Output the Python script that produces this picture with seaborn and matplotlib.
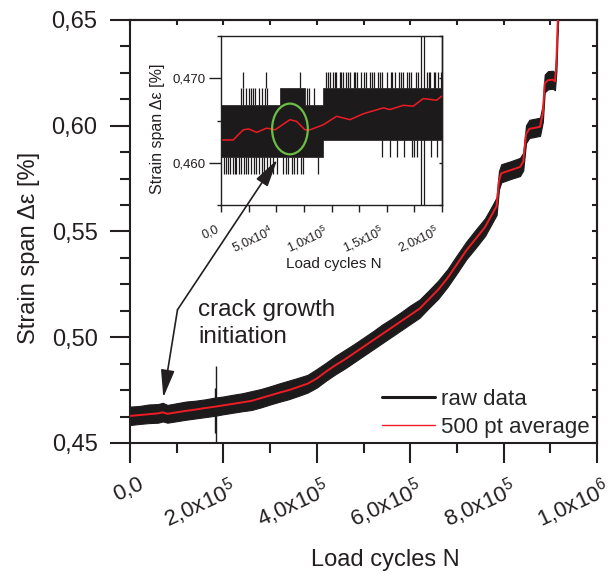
import numpy as np
import pandas as pd
import matplotlib
matplotlib.use("Agg")
import matplotlib.pyplot as plt
import matplotlib.transforms as mtransforms
from matplotlib.ticker import MultipleLocator, FixedLocator, FuncFormatter
from matplotlib.patches import Ellipse
from matplotlib.lines import Line2D
import seaborn as sns

# ---------------- data ----------------
# main chart: load cycles (thousands), 500 pt average and raw-data envelope
main_n_k = [0, 20, 40, 60, 70, 80, 100, 120, 140, 160, 180, 200, 220, 240, 260, 280, 300,
            320, 340, 360, 380, 400, 420, 440, 460, 480, 500, 520, 540, 560, 580, 600, 620,
            640, 660, 680, 700, 720, 740, 760, 775, 785, 790, 795, 815, 835, 842, 848, 855,
            878, 884, 888, 895, 905, 910, 913, 916, 919]
main_avg = [0.4628, 0.4632, 0.4636, 0.4640, 0.4645, 0.4638, 0.4645, 0.4652, 0.4658, 0.4665,
            0.4671, 0.4678, 0.4685, 0.4692, 0.4699, 0.4712, 0.4725, 0.4738, 0.4750, 0.4765,
            0.4780, 0.4805, 0.4838, 0.4868, 0.4895, 0.4925, 0.4955, 0.4985, 0.5015, 0.5045,
            0.5075, 0.5105, 0.5135, 0.5180, 0.5225, 0.5280, 0.5345, 0.5410, 0.5465, 0.5520,
            0.5580, 0.5620, 0.5740, 0.5775, 0.5790, 0.5805, 0.5830, 0.5960, 0.5985, 0.5995,
            0.6060, 0.6200, 0.6215, 0.6218, 0.6210, 0.6300, 0.6500, 0.6650]
main_raw_hi = [0.4672, 0.4675, 0.4682, 0.4684, 0.4690, 0.4680, 0.4688, 0.4696, 0.4700, 0.4706,
               0.4714, 0.4720, 0.4728, 0.4735, 0.4745, 0.4755, 0.4768, 0.4782, 0.4795, 0.4808,
               0.4822, 0.4850, 0.4880, 0.4912, 0.4940, 0.4968, 0.4998, 0.5028, 0.5060, 0.5088,
               0.5118, 0.5150, 0.5178, 0.5222, 0.5268, 0.5322, 0.5388, 0.5452, 0.5508, 0.5562,
               0.5620, 0.5662, 0.5785, 0.5818, 0.5832, 0.5848, 0.5872, 0.6002, 0.6028, 0.6038,
               0.6102, 0.6242, 0.6258, 0.6260, 0.6252, 0.6345, 0.6545, 0.6700]
main_raw_lo = [0.4585, 0.4590, 0.4594, 0.4596, 0.4602, 0.4596, 0.4603, 0.4610, 0.4616, 0.4622,
               0.4628, 0.4636, 0.4643, 0.4650, 0.4656, 0.4668, 0.4682, 0.4695, 0.4707, 0.4722,
               0.4738, 0.4762, 0.4795, 0.4825, 0.4852, 0.4882, 0.4912, 0.4942, 0.4972, 0.5002,
               0.5032, 0.5062, 0.5092, 0.5138, 0.5182, 0.5238, 0.5302, 0.5368, 0.5422, 0.5478,
               0.5538, 0.5578, 0.5698, 0.5732, 0.5748, 0.5762, 0.5788, 0.5918, 0.5942, 0.5952,
               0.6018, 0.6158, 0.6172, 0.6175, 0.6168, 0.6255, 0.6455, 0.6600]

# large outlier spikes in the raw data (cycles, min, max)
spike_n = [181000, 183500]
spike_lo = [0.4545, 0.4490]
spike_hi = [0.4760, 0.4865]

# inset: 500 pt average over the first 2x10^5 cycles
inset_n = [1500, 11000, 20200, 25000, 32300, 41300, 48900, 53400, 62400, 68400, 76000, 80500,
           92600, 104600, 116700, 128800, 146900, 152900, 165000, 174000, 183000, 195000, 200000]
inset_avg = [0.4627, 0.4627, 0.4639, 0.4640, 0.4636, 0.4641, 0.4639, 0.4643, 0.4651, 0.4649,
             0.4639, 0.4639, 0.4645, 0.4655, 0.4651, 0.4658, 0.4665, 0.4663, 0.4668, 0.4667,
             0.4676, 0.4674, 0.4679]
# inset: raw data core band (quantised levels)
core_n = [0, 53400, 53400, 76000, 76000, 92600, 92600, 200000]
core_lo = [0.4607, 0.4607, 0.4607, 0.4607, 0.4607, 0.4607, 0.4627, 0.4627]
core_hi = [0.4668, 0.4668, 0.4688, 0.4688, 0.4668, 0.4668, 0.4688, 0.4688]
# inset: single raw excursions outside the core band
low_spike_n = [2500, 4500, 6500, 8500, 10500, 12500, 14000, 16000, 18000, 20500, 22500, 24500,
               27000, 29500, 31500, 34000, 37000, 39000, 41500, 44500, 47500, 51000, 56000,
               58500, 61000, 64000, 66500, 69000, 72000, 74500, 88000]
low_spike_lo = [0.4587] * len(low_spike_n)
low_spike_hi = [0.4607] * len(low_spike_n)
mid_spike_n = [18000, 20000, 22500, 25000, 27000, 29000, 31000, 34000, 37000, 39500, 42000,
               77500, 80000, 84000]
mid_spike_lo = [0.4668] * len(mid_spike_n)
mid_spike_hi = [0.4688] * len(mid_spike_n)
top_spike_n = [20200, 40700, 71500, 95000, 97000, 98500, 101000, 103000, 104000, 107500, 109000,
               110000, 113000, 115000, 116500, 120000, 121500, 123000, 127000, 129000, 131000,
               135000, 136500, 138000, 142000, 144000, 146000, 150000, 153500, 155000, 157000,
               161000, 163000, 165000, 168000, 170000, 172000, 176000, 178000, 186000, 188000,
               189000, 192500, 194000, 196000, 199000]
top_spike_lo = [0.4688] * len(top_spike_n)
top_spike_hi = [0.4708] * len(top_spike_n)
down2_spike_n = [145400, 153000, 159000, 166000, 172500, 174500, 177000, 190000, 195000]
down2_spike_lo = [0.4607] * len(down2_spike_n)
down2_spike_hi = [0.4627] * len(down2_spike_n)

# ellipse marking crack growth initiation (centre, width, height in inset data units)
mark_center = (62400, 0.4640)
mark_size = (32300, 0.0060)

main_xticks = [0, 2e5, 4e5, 6e5, 8e5, 1e6]
main_yticks = [0.45, 0.50, 0.55, 0.60, 0.65]
inset_xticks = [0, 5e4, 1e5, 1.5e5, 2e5]
inset_yticks = [0.460, 0.470]

# ---------------- styling ----------------
sns.set_style("ticks")
plt.rcParams["font.family"] = ["Liberation Sans", "DejaVu Sans"]
plt.rcParams["mathtext.fontset"] = "custom"
plt.rcParams["mathtext.rm"] = "Liberation Sans"
plt.rcParams["mathtext.it"] = "Liberation Sans:italic"
plt.rcParams["mathtext.bf"] = "Liberation Sans:bold"

INK = "#231f20"
RAW = "#1c1a1a"
RED = "#ee1c24"
GREEN = "#6dbd45"


def sci_label(v, pos=None):
    if v == 0:
        return "0,0"
    e = int(np.floor(np.log10(abs(v)) + 1e-9))
    m = v / 10 ** e
    return ("%.1f" % m).replace(".", ",") + "x10$^{%d}$" % e


fig = plt.figure(figsize=(6.13, 5.79), dpi=100)
ax = fig.add_axes([0.2121, 0.2349, 0.7618, 0.7306])

main_n = np.array(main_n_k) * 1000.0
main_df = pd.DataFrame({"N": main_n, "avg": main_avg})

ax.fill_between(main_n, main_raw_lo, main_raw_hi, color=RAW, lw=0.8, edgecolor=RAW, zorder=2)
ax.vlines(spike_n, spike_lo, spike_hi, color=RAW, lw=1.0, zorder=2)
sns.lineplot(data=main_df, x="N", y="avg", ax=ax, color=RED, lw=1.4, sort=False,
             estimator=None, zorder=3, legend=False)

ax.set_xlim(0, 1e6)
ax.set_ylim(0.45, 0.65)
ax.xaxis.set_major_locator(FixedLocator(main_xticks))
ax.xaxis.set_minor_locator(MultipleLocator(1e5))
ax.yaxis.set_major_locator(FixedLocator(main_yticks))
ax.yaxis.set_minor_locator(MultipleLocator(0.0125))
ax.xaxis.set_major_formatter(FuncFormatter(sci_label))
ax.yaxis.set_major_formatter(FuncFormatter(lambda v, p: ("%.2f" % v).replace(".", ",")))

for s in ax.spines.values():
    s.set_linewidth(1.5)
    s.set_color(INK)
ax.tick_params(which="major", direction="out", length=14.4, width=1.5, color=INK,
               labelcolor=INK)
ax.tick_params(which="minor", direction="out", length=7.5, width=1.5, color=INK)
ax.tick_params(axis="y", which="major", labelsize=17, pad=9)
ax.tick_params(axis="x", which="major", labelsize=16, pad=8)

offset = mtransforms.ScaledTranslation(17 / 100, 0, fig.dpi_scale_trans)
for lab in ax.get_xticklabels():
    lab.set_rotation(25)
    lab.set_ha("right")
    lab.set_va("top")
    lab.set_transform(lab.get_transform() + offset)

# inward ticks on top / right
sec_x = ax.secondary_xaxis("top")
sec_x.xaxis.set_major_locator(MultipleLocator(1e5))
sec_x.tick_params(direction="in", length=3.6, width=1.5, color=INK, labeltop=False)
sec_x.spines["top"].set_linewidth(1.5)
sec_y = ax.secondary_yaxis("right")
sec_y.yaxis.set_major_locator(MultipleLocator(0.0125))
sec_y.tick_params(direction="in", length=3.6, width=1.5, color=INK, labelright=False)
sec_y.spines["right"].set_linewidth(1.5)

ax.set_xlabel("Load cycles N", fontsize=17, color=INK)
ax.set_ylabel("Strain span Δε [%]", fontsize=17, color=INK)
ax.xaxis.set_label_coords(0.546, -0.251)
ax.yaxis.set_label_coords(-0.193, 0.461)

handles = [Line2D([], [], color=RAW, lw=2.2), Line2D([], [], color=RED, lw=1.0)]
ax.legend(handles, ["raw data", "500 pt average"], loc="lower right",
          bbox_to_anchor=(0.985, 0.012), frameon=False, fontsize=16, borderpad=0,
          borderaxespad=0, handlelength=2.35, handletextpad=0.3, labelspacing=0.3)

ax.text(145600, 0.5180, "crack growth\ninitiation", fontsize=17.5, color=INK, ha="left",
        va="top", linespacing=1.3)

# ---------------- inset ----------------
ins = fig.add_axes([0.3605, 0.6459, 0.3606, 0.2919])
ins.set_facecolor("white")
ins.fill_between(core_n, core_lo, core_hi, color=RAW, lw=0.5, edgecolor=RAW, zorder=2)
for xs, lo, hi in [(low_spike_n, low_spike_lo, low_spike_hi),
                   (mid_spike_n, mid_spike_lo, mid_spike_hi),
                   (top_spike_n, top_spike_lo, top_spike_hi),
                   (down2_spike_n, down2_spike_lo, down2_spike_hi),
                   (spike_n, spike_lo, spike_hi)]:
    ins.vlines(xs, lo, hi, color=RAW, lw=0.9, zorder=2)
sns.lineplot(x=inset_n, y=inset_avg, ax=ins, color=RED, lw=1.1, sort=False,
             estimator=None, zorder=3, legend=False)
ins.add_patch(Ellipse(mark_center, mark_size[0], mark_size[1], fill=False,
                      edgecolor=GREEN, lw=1.6, zorder=4))

ins.set_xlim(0, 2e5)
ins.set_ylim(0.455, 0.475)
ins.xaxis.set_major_locator(FixedLocator(inset_xticks))
ins.xaxis.set_minor_locator(MultipleLocator(2.5e4))
ins.yaxis.set_major_locator(FixedLocator(inset_yticks))
ins.yaxis.set_minor_locator(MultipleLocator(0.005))
ins.xaxis.set_major_formatter(FuncFormatter(sci_label))
ins.yaxis.set_major_formatter(FuncFormatter(lambda v, p: ("%.3f" % v).replace(".", ",")))
for s in ins.spines.values():
    s.set_linewidth(1.0)
    s.set_color(INK)
ins.tick_params(which="both", direction="out", width=1.0, color=INK, labelcolor=INK)
ins.tick_params(axis="x", which="both", length=5)
ins.tick_params(axis="y", which="major", length=9)
ins.tick_params(axis="y", which="minor", length=3)
ins.tick_params(axis="x", which="major", labelsize=9, pad=8)
ins.tick_params(axis="y", which="major", labelsize=9.5, pad=2)
for lab in ins.get_xticklabels():
    lab.set_rotation(25)
    lab.set_ha("right")
    lab.set_va("top")
ins_sec = ins.secondary_yaxis("right")
ins_sec.yaxis.set_major_locator(MultipleLocator(0.005))
ins_sec.tick_params(direction="in", length=2.5, width=1.0, color=INK, labelright=False)
ins_sec.spines["right"].set_linewidth(1.0)

ins.set_xlabel("Load cycles N", fontsize=11, color=INK)
ins.set_ylabel("Strain span Δε [%]", fontsize=11.5, color=INK)
ins.xaxis.set_label_coords(0.511, -0.31)
ins.yaxis.set_label_coords(-0.253, 0.45)

# arrow from the text corner to the main curve and into the inset
arrow_kw = dict(arrowstyle="-|>,head_length=1.7,head_width=0.42", color=INK, lw=1.2,
                shrinkA=0, shrinkB=0)
ins.annotate("", xy=(315400, 0.5840), xycoords=ax.transData, xytext=(101700, 0.5130),
             textcoords=ax.transData, arrowprops=arrow_kw, annotation_clip=False)
ax.annotate("", xy=(71300, 0.4715), xytext=(101700, 0.5130), arrowprops=arrow_kw,
            annotation_clip=False)

fig.savefig("out.png", dpi=100)
